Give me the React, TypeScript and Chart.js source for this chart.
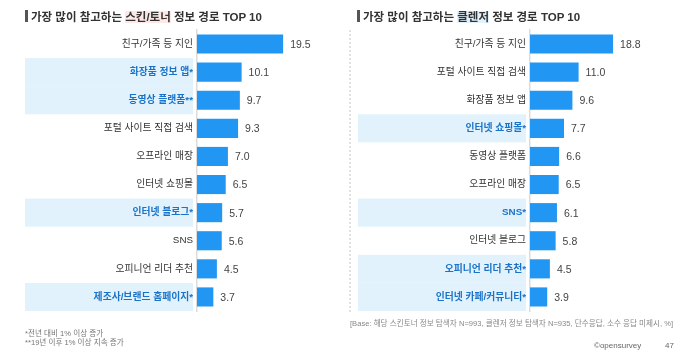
import React, { useEffect, useRef } from "react";
import { Chart, registerables } from "chart.js";

Chart.register(...registerables);

const leftCategories = [
  "친구/가족 등 지인",
  "화장품 정보 앱*",
  "동영상 플랫폼**",
  "포털 사이트 직접 검색",
  "오프라인 매장",
  "인터넷 쇼핑몰",
  "인터넷 블로그*",
  "SNS",
  "오피니언 리더 추천",
  "제조사/브랜드 홈페이지*",
];
const leftValues = [19.5, 10.1, 9.7, 9.3, 7.0, 6.5, 5.7, 5.6, 4.5, 3.7];

const rightCategories = [
  "친구/가족 등 지인",
  "포털 사이트 직접 검색",
  "화장품 정보 앱",
  "인터넷 쇼핑몰*",
  "동영상 플랫폼",
  "오프라인 매장",
  "SNS*",
  "인터넷 블로그",
  "오피니언 리더 추천*",
  "인터넷 카페/커뮤니티*",
];
const rightValues = [18.8, 11.0, 9.6, 7.7, 6.6, 6.5, 6.1, 5.8, 4.5, 3.9];

const leftTitle = ["가장 많이 참고하는 ", "스킨/토너", " 정보 경로 TOP 10"];
const rightTitle = ["가장 많이 참고하는 ", "클렌저", " 정보 경로 TOP 10"];
const footnotes = ["*전년 대비 1% 이상 증가", "**19년 이후 1% 이상 지속 증가"];
const baseNote = "[Base: 해당 스킨토너 정보 탐색자 N=993, 클렌저 정보 탐색자 N=935, 단수응답, 소수 응답 미제시, %]";
const brand = "©opensurvey";
const pageNo = "47";

const FONT = '"Liberation Sans", "Noto Sans CJK KR", sans-serif';
const BAR = "#2196F3";
const HILITE_BG = "#E1F2FD";
const HILITE_TEXT = "#1A73C8";

function makeChart(
  canvas: HTMLCanvasElement,
  labels: string[],
  values: number[],
  axisWidth: number,
  boxLeft: number,
  padRight: number
) {
  const isHi = (i: number) => labels[i].includes("*");
  const plugin = {
    id: "rowDeco",
    beforeDraw(chart: any) {
      const { ctx, chartArea, scales } = chart;
      const y = scales.y;
      const pitch = (chartArea.bottom - chartArea.top) / labels.length;
      ctx.save();
      ctx.fillStyle = HILITE_BG;
      labels.forEach((_, i) => {
        if (!isHi(i)) return;
        const c = y.getPixelForValue(i);
        ctx.fillRect(boxLeft, c - pitch / 2, chartArea.left - 4 - boxLeft, pitch);
      });
      ctx.restore();
    },
    afterDatasetsDraw(chart: any) {
      const { ctx } = chart;
      const meta = chart.getDatasetMeta(0);
      ctx.save();
      ctx.font = `10.5px ${FONT}`;
      ctx.fillStyle = "#444";
      ctx.textAlign = "left";
      ctx.textBaseline = "middle";
      meta.data.forEach((bar: any, i: number) => {
        ctx.fillText(values[i].toFixed(1), bar.x + 7, bar.y + 1);
      });
      ctx.restore();
    },
  };
  return new Chart(canvas, {
    type: "bar",
    data: {
      labels,
      datasets: [
        {
          data: values,
          backgroundColor: BAR,
          borderWidth: 0,
          categoryPercentage: 1,
          barPercentage: 0.68,
        },
      ],
    },
    options: {
      indexAxis: "y",
      responsive: false,
      animation: false,
      maintainAspectRatio: false,
      layout: { padding: { top: 30, bottom: 48, left: 0, right: padRight } },
      plugins: { legend: { display: false }, tooltip: { enabled: false } },
      scales: {
        x: { display: false, min: 0, max: 33.5 },
        y: {
          afterFit(scale: any) {
            scale.width = axisWidth;
          },
          grid: { display: false, drawTicks: false },
          border: { display: true, color: "#dcdcdc", width: 1.5 },
          ticks: {
            padding: 4,
            color: (ctx: any) => (isHi(ctx.index) ? HILITE_TEXT : "#333"),
            font: (ctx: any) => ({
              family: FONT,
              size: 9.8,
              weight: isHi(ctx.index) ? "bold" : "normal",
            }),
          },
        },
      },
    },
    plugins: [plugin],
  } as any);
}

function Panel(props: {
  labels: string[];
  values: number[];
  axisWidth: number;
  boxLeft: number;
  padRight: number;
}) {
  const ref = useRef<HTMLCanvasElement>(null);
  useEffect(() => {
    if (!ref.current) return;
    const c = makeChart(ref.current, props.labels, props.values, props.axisWidth, props.boxLeft, props.padRight);
    return () => c.destroy();
  }, []);
  return <canvas ref={ref} width={350} height={359} style={{ display: "block" }} />;
}

function Title(props: { parts: string[]; hl: string; left: number }) {
  return (
    <div
      style={{
        position: "absolute",
        left: props.left,
        top: 8,
        fontFamily: FONT,
        fontWeight: "bold",
        fontSize: 11.5,
        color: "#333",
        whiteSpace: "nowrap",
        lineHeight: "18px",
      }}
    >
      <span
        style={{
          display: "inline-block",
          width: 3,
          height: 12,
          background: "#555",
          marginRight: 3,
          verticalAlign: "-1px",
        }}
      />
      {props.parts[0]}
      <span style={{ background: props.hl }}>{props.parts[1]}</span>
      {props.parts[2]}
    </div>
  );
}

const noteStyle: React.CSSProperties = {
  position: "absolute",
  fontFamily: FONT,
  fontSize: 7.6,
  lineHeight: "11px",
  whiteSpace: "nowrap",
};

export default function App() {
  return (
    <div
      style={{
        position: "absolute",
        left: 0,
        top: 0,
        width: 700,
        height: 359,
        background: "#fff",
        overflow: "hidden",
      }}
    >
      <div style={{ position: "absolute", left: 0, top: 0 }}>
        <Panel labels={leftCategories} values={leftValues} axisWidth={197} boxLeft={25} padRight={5} />
      </div>
      <div style={{ position: "absolute", left: 350, top: 0 }}>
        <Panel labels={rightCategories} values={rightValues} axisWidth={180} boxLeft={8} padRight={22} />
      </div>
      <div
        style={{
          position: "absolute",
          left: 349,
          top: 30,
          height: 282,
          borderLeft: "2px dotted #e2e2e2",
        }}
      />
      <Title parts={leftTitle} hl="#FCE9E6" left={25} />
      <Title parts={rightTitle} hl="#E1F2FD" left={357} />
      <div style={{ ...noteStyle, left: 25, top: 329, lineHeight: "9px", color: "#777" }}>
        {footnotes.map((f) => (
          <div key={f}>{f}</div>
        ))}
      </div>
      <div style={{ ...noteStyle, left: 350, top: 318, color: "#888" }}>{baseNote}</div>
      <div style={{ ...noteStyle, fontSize: 8, left: 594, top: 340, color: "#666" }}>{brand}</div>
      <div style={{ ...noteStyle, fontSize: 8, left: 665, top: 340, color: "#666" }}>{pageNo}</div>
    </div>
  );
}
